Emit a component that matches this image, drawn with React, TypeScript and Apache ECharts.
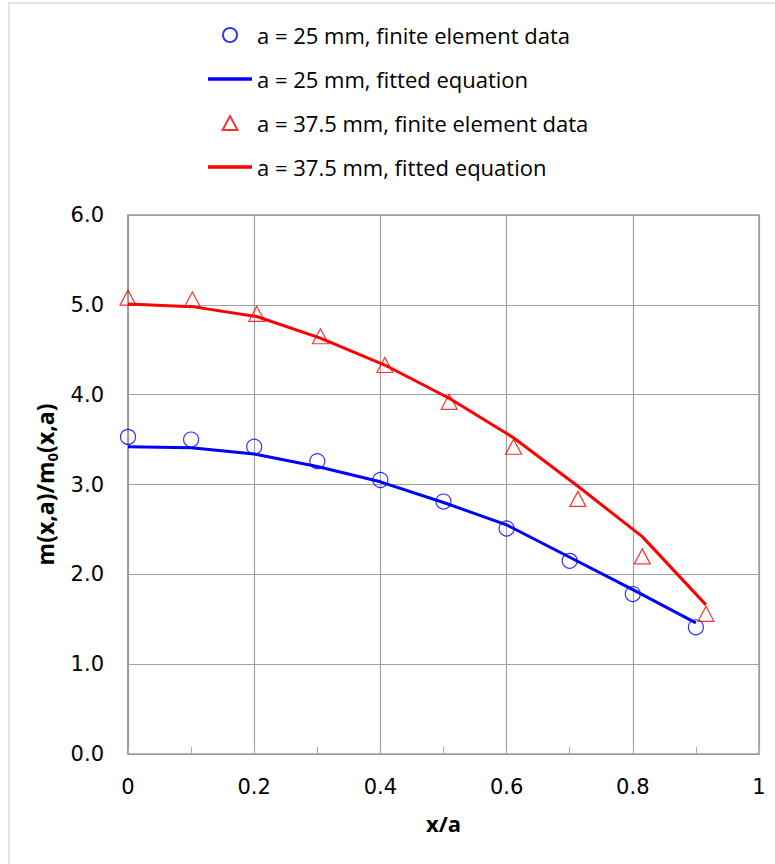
import React, { useEffect, useRef } from "react";
import * as echarts from "echarts";

const seriesNames = [
  "a = 25 mm, finite element data",
  "a = 25 mm, fitted equation",
  "a = 37.5 mm, finite element data",
  "a = 37.5 mm, fitted equation",
];

const x25 = [0, 0.1, 0.2, 0.3, 0.4, 0.5, 0.6, 0.7, 0.8, 0.9];
const fe25 = [3.53, 3.5, 3.42, 3.26, 3.05, 2.81, 2.51, 2.15, 1.78, 1.41];
const fit25 = [3.42, 3.41, 3.34, 3.2, 3.03, 2.8, 2.55, 2.19, 1.83, 1.46];

const x375 = [0, 0.102, 0.204, 0.305, 0.407, 0.509, 0.611, 0.713, 0.815, 0.916];
const fe375 = [5.08, 5.06, 4.9, 4.65, 4.33, 3.92, 3.42, 2.84, 2.2, 1.56];
const fit375 = [5.01, 4.98, 4.87, 4.63, 4.33, 3.96, 3.52, 2.98, 2.42, 1.66];

const xAxisTitle = "x/a";

const zip = (xs: number[], ys: number[]) => xs.map((x, i) => [x, ys[i]]);

const lineIcon = "path://M0,0h44v3.5h-44z";
const triIcon = "path://M8,0L16,15L0,15Z";

export default function App() {
  const ref = useRef<HTMLDivElement>(null);
  useEffect(() => {
    if (!ref.current) return;
    const chart = echarts.init(ref.current, null, { renderer: "svg" });
    const gridColor = "#a0a0a0";
    chart.setOption({
      animation: false,
      backgroundColor: "#fff",
      graphic: [
        {
          type: "rect",
          shape: { x: 9, y: 3, width: 800, height: 900 },
          style: { fill: "none", stroke: "#e4e4e4", lineWidth: 2 },
          silent: true,
        },
      ],
      legend: {
        orient: "vertical",
        left: 208,
        top: 23,
        padding: 0,
        itemWidth: 44,
        itemHeight: 14,
        itemGap: 20,
        symbolKeepAspect: true,
        data: [
          { name: seriesNames[0], icon: "circle" },
          { name: seriesNames[1], icon: lineIcon },
          { name: seriesNames[2], icon: triIcon },
          { name: seriesNames[3], icon: lineIcon },
        ],
        textStyle: {
          fontFamily: "Open Sans",
          fontSize: 22,
          lineHeight: 24,
          color: "#000",
        },
      },
      grid: {
        left: 128,
        right: 16,
        top: 215,
        bottom: 110,
        show: true,
        borderColor: gridColor,
        borderWidth: 1.5,
      },
      xAxis: {
        type: "value",
        min: 0,
        max: 1,
        interval: 0.2,
        name: xAxisTitle,
        nameLocation: "middle",
        nameGap: 58,
        nameTextStyle: {
          fontFamily: "Open Sans",
          fontWeight: "bold",
          fontSize: 22,
          color: "#000",
        },
        axisLine: { lineStyle: { color: "#999", width: 1 } },
        axisTick: { show: true, inside: true, length: 7, lineStyle: { color: "#aaa" } },
        minorTick: { show: true, splitNumber: 2, length: 7, lineStyle: { color: "#aaa" } },
        splitLine: { show: true, lineStyle: { color: gridColor, width: 1.2 } },
        axisLabel: {
          margin: 22,
          fontFamily: "DejaVu Sans",
          fontSize: 21,
          color: "#000",
          formatter: (v: number) => String(+v.toFixed(1)),
        },
      },
      yAxis: {
        type: "value",
        min: 0,
        max: 6,
        interval: 1,
        name: "{m|m(x,a)/m}{s|0}{m|(x,a)}",
        nameLocation: "middle",
        nameRotate: 90,
        nameGap: 62,
        nameTextStyle: {
          color: "#000",
          rich: {
            m: {
              fontFamily: "Open Sans",
              fontWeight: "bold",
              fontSize: 23,
              lineHeight: 30,
              color: "#000",
            },
            s: {
              fontFamily: "Open Sans",
              fontWeight: "bold",
              fontSize: 15,
              lineHeight: 15,
              verticalAlign: "bottom",
              color: "#000",
            },
          },
        },
        axisLine: { show: true, lineStyle: { color: "#999", width: 1.5 } },
        axisTick: { show: false },
        splitLine: { show: true, lineStyle: { color: gridColor, width: 1.2 } },
        axisLabel: {
          margin: 24,
          fontFamily: "DejaVu Sans",
          fontSize: 21,
          color: "#000",
          formatter: (v: number) => v.toFixed(1),
        },
      },
      series: [
        {
          name: seriesNames[0],
          type: "scatter",
          data: zip(x25, fe25),
          symbol: "circle",
          symbolSize: 15,
          itemStyle: { color: "rgba(255,255,255,0)", borderColor: "#0000ff", borderWidth: 1.2 },
        },
        {
          name: seriesNames[1],
          type: "line",
          data: zip(x25, fit25),
          symbol: "none",
          lineStyle: { color: "#0000ff", width: 3 },
          itemStyle: { color: "#0000ff" },
        },
        {
          name: seriesNames[2],
          type: "scatter",
          data: zip(x375, fe375),
          symbol: "triangle",
          symbolSize: [16, 15],
          itemStyle: { color: "rgba(255,255,255,0)", borderColor: "#ff0000", borderWidth: 1.2 },
        },
        {
          name: seriesNames[3],
          type: "line",
          data: zip(x375, fit375),
          symbol: "none",
          lineStyle: { color: "#ff0000", width: 3 },
          itemStyle: { color: "#ff0000" },
        },
      ],
    });
    return () => chart.dispose();
  }, []);
  return (
    <div
      ref={ref}
      style={{ position: "absolute", left: 0, top: 0, width: 775, height: 864 }}
    />
  );
}
